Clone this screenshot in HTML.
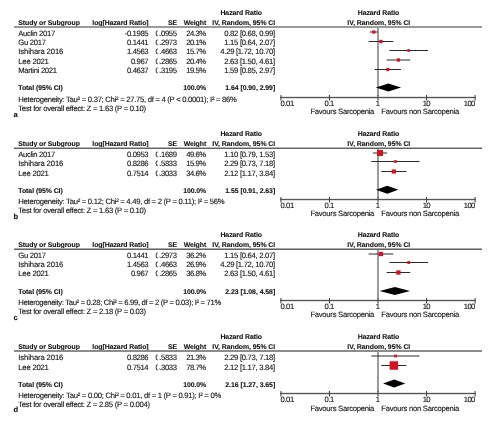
<!DOCTYPE html>
<html><head><meta charset="utf-8"><style>
html,body{margin:0;padding:0;background:#fff;}
body{width:496px;height:426px;overflow:hidden;}
svg{display:block;filter:blur(0.3px);font-family:"Liberation Sans",sans-serif;text-rendering:geometricPrecision;}
</style></head><body>
<svg width="496" height="426" viewBox="0 0 496 426">
<rect width="496" height="426" fill="#fff"/>
<text x="241.20" y="15.00" text-anchor="middle" font-size="6.9" font-weight="bold" fill="#151515" stroke="#151515" stroke-width="0.12" textLength="41.56" lengthAdjust="spacing">Hazard Ratio</text>
<text x="378.50" y="15.00" text-anchor="middle" font-size="6.9" font-weight="bold" fill="#151515" stroke="#151515" stroke-width="0.12" textLength="41.56" lengthAdjust="spacing">Hazard Ratio</text>
<text x="18.30" y="24.60" text-anchor="start" font-size="6.9" font-weight="bold" fill="#151515" stroke="#151515" stroke-width="0.12" textLength="61.57" lengthAdjust="spacing">Study or Subgroup</text>
<text x="148.60" y="24.60" text-anchor="end" font-size="6.9" font-weight="bold" fill="#151515" stroke="#151515" stroke-width="0.12" textLength="56.29" lengthAdjust="spacing">log[Hazard Ratio]</text>
<text x="177.00" y="24.60" text-anchor="end" font-size="6.9" font-weight="bold" fill="#151515" stroke="#151515" stroke-width="0.12" textLength="9.07" lengthAdjust="spacing">SE</text>
<text x="206.20" y="24.60" text-anchor="end" font-size="6.9" font-weight="bold" fill="#151515" stroke="#151515" stroke-width="0.12" textLength="22.54" lengthAdjust="spacing">Weight</text>
<text x="275.20" y="24.60" text-anchor="end" font-size="6.9" font-weight="bold" fill="#151515" stroke="#151515" stroke-width="0.12" textLength="62.86" lengthAdjust="spacing">IV, Random, 95% CI</text>
<text x="378.80" y="24.60" text-anchor="middle" font-size="6.9" font-weight="bold" fill="#151515" stroke="#151515" stroke-width="0.12" textLength="62.86" lengthAdjust="spacing">IV, Random, 95% CI</text>
<rect x="14" y="26" width="468" height="1" fill="#9a9a9a"/>
<rect x="14" y="27" width="468" height="1" fill="#9a9a9a"/>
<rect x="377" y="28" width="2" height="69" fill="#9c9c9c"/>
<text x="18.30" y="35.90" text-anchor="start" font-size="7.7" font-weight="normal" fill="#151515" stroke="#151515" stroke-width="0.12" textLength="36.90" lengthAdjust="spacing">Auclin 2017</text>
<text x="148.60" y="35.90" text-anchor="end" font-size="7.7" font-weight="normal" fill="#151515" stroke="#151515" stroke-width="0.12" textLength="23.91" lengthAdjust="spacing">-0.1985</text>
<text x="177.00" y="35.90" text-anchor="end" font-size="7.7" font-weight="normal" fill="#151515" stroke="#151515" stroke-width="0.12" textLength="21.56" lengthAdjust="spacing">0.0955</text>
<rect x="157.8" y="29.40" width="1.2" height="7" fill="#fff"/><rect x="159" y="29.40" width="1" height="5.3" fill="#fff"/>
<text x="206.20" y="35.90" text-anchor="end" font-size="7.7" font-weight="normal" fill="#151515" stroke="#151515" stroke-width="0.12" textLength="19.99" lengthAdjust="spacing">24.3%</text>
<text x="275.20" y="35.90" text-anchor="end" font-size="7.7" font-weight="normal" fill="#151515" stroke="#151515" stroke-width="0.12" textLength="50.96" lengthAdjust="spacing">0.82 [0.68, 0.99]</text>
<line x1="369.87" y1="32.00" x2="377.79" y2="32.00" stroke="#2a2a2a" stroke-width="1.0"/>
<rect x="372.22" y="30.40" width="3.20" height="3.20" fill="#cf1424"/>
<text x="18.30" y="44.90" text-anchor="start" font-size="7.7" font-weight="normal" fill="#151515" stroke="#151515" stroke-width="0.12" textLength="27.80" lengthAdjust="spacing">Gu 2017</text>
<text x="148.60" y="44.90" text-anchor="end" font-size="7.7" font-weight="normal" fill="#151515" stroke="#151515" stroke-width="0.12" textLength="21.56" lengthAdjust="spacing">0.1441</text>
<text x="177.00" y="44.90" text-anchor="end" font-size="7.7" font-weight="normal" fill="#151515" stroke="#151515" stroke-width="0.12" textLength="21.56" lengthAdjust="spacing">0.2973</text>
<rect x="157.8" y="38.40" width="1.2" height="7" fill="#fff"/><rect x="159" y="38.40" width="1" height="5.3" fill="#fff"/>
<text x="206.20" y="44.90" text-anchor="end" font-size="7.7" font-weight="normal" fill="#151515" stroke="#151515" stroke-width="0.12" textLength="19.99" lengthAdjust="spacing">20.1%</text>
<text x="275.20" y="44.90" text-anchor="end" font-size="7.7" font-weight="normal" fill="#151515" stroke="#151515" stroke-width="0.12" textLength="50.96" lengthAdjust="spacing">1.15 [0.64, 2.07]</text>
<line x1="368.59" y1="41.50" x2="393.34" y2="41.50" stroke="#2a2a2a" stroke-width="1.0"/>
<rect x="379.30" y="39.85" width="3.30" height="3.30" fill="#cf1424"/>
<text x="18.30" y="54.20" text-anchor="start" font-size="7.7" font-weight="normal" fill="#151515" stroke="#151515" stroke-width="0.12" textLength="45.00" lengthAdjust="spacing">Ishihara 2016</text>
<text x="148.60" y="54.20" text-anchor="end" font-size="7.7" font-weight="normal" fill="#151515" stroke="#151515" stroke-width="0.12" textLength="21.56" lengthAdjust="spacing">1.4563</text>
<text x="177.00" y="54.20" text-anchor="end" font-size="7.7" font-weight="normal" fill="#151515" stroke="#151515" stroke-width="0.12" textLength="21.56" lengthAdjust="spacing">0.4663</text>
<rect x="157.8" y="47.70" width="1.2" height="7" fill="#fff"/><rect x="159" y="47.70" width="1" height="5.3" fill="#fff"/>
<text x="206.20" y="54.20" text-anchor="end" font-size="7.7" font-weight="normal" fill="#151515" stroke="#151515" stroke-width="0.12" textLength="19.99" lengthAdjust="spacing">15.7%</text>
<text x="275.20" y="54.20" text-anchor="end" font-size="7.7" font-weight="normal" fill="#151515" stroke="#151515" stroke-width="0.12" textLength="54.88" lengthAdjust="spacing">4.29 [1.72, 10.70]</text>
<line x1="389.43" y1="50.50" x2="427.98" y2="50.50" stroke="#2a2a2a" stroke-width="1.0"/>
<rect x="407.36" y="49.15" width="2.70" height="2.70" fill="#cf1424"/>
<text x="18.30" y="63.60" text-anchor="start" font-size="7.7" font-weight="normal" fill="#151515" stroke="#151515" stroke-width="0.12" textLength="30.60" lengthAdjust="spacing">Lee 2021</text>
<text x="148.60" y="63.60" text-anchor="end" font-size="7.7" font-weight="normal" fill="#151515" stroke="#151515" stroke-width="0.12" textLength="17.64" lengthAdjust="spacing">0.967</text>
<text x="177.00" y="63.60" text-anchor="end" font-size="7.7" font-weight="normal" fill="#151515" stroke="#151515" stroke-width="0.12" textLength="21.56" lengthAdjust="spacing">0.2865</text>
<rect x="157.8" y="57.10" width="1.2" height="7" fill="#fff"/><rect x="159" y="57.10" width="1" height="5.3" fill="#fff"/>
<text x="206.20" y="63.60" text-anchor="end" font-size="7.7" font-weight="normal" fill="#151515" stroke="#151515" stroke-width="0.12" textLength="19.99" lengthAdjust="spacing">20.4%</text>
<text x="275.20" y="63.60" text-anchor="end" font-size="7.7" font-weight="normal" fill="#151515" stroke="#151515" stroke-width="0.12" textLength="50.96" lengthAdjust="spacing">2.63 [1.50, 4.61]</text>
<line x1="386.55" y1="60.00" x2="410.22" y2="60.00" stroke="#2a2a2a" stroke-width="1.0"/>
<rect x="396.74" y="58.35" width="3.30" height="3.30" fill="#cf1424"/>
<text x="18.30" y="73.00" text-anchor="start" font-size="7.7" font-weight="normal" fill="#151515" stroke="#151515" stroke-width="0.12" textLength="38.70" lengthAdjust="spacing">Martini 2021</text>
<text x="148.60" y="73.00" text-anchor="end" font-size="7.7" font-weight="normal" fill="#151515" stroke="#151515" stroke-width="0.12" textLength="21.56" lengthAdjust="spacing">0.4637</text>
<text x="177.00" y="73.00" text-anchor="end" font-size="7.7" font-weight="normal" fill="#151515" stroke="#151515" stroke-width="0.12" textLength="21.56" lengthAdjust="spacing">0.3195</text>
<rect x="157.8" y="66.50" width="1.2" height="7" fill="#fff"/><rect x="159" y="66.50" width="1" height="5.3" fill="#fff"/>
<text x="206.20" y="73.00" text-anchor="end" font-size="7.7" font-weight="normal" fill="#151515" stroke="#151515" stroke-width="0.12" textLength="19.99" lengthAdjust="spacing">19.5%</text>
<text x="275.20" y="73.00" text-anchor="end" font-size="7.7" font-weight="normal" fill="#151515" stroke="#151515" stroke-width="0.12" textLength="50.96" lengthAdjust="spacing">1.59 [0.85, 2.97]</text>
<line x1="374.57" y1="69.50" x2="400.95" y2="69.50" stroke="#2a2a2a" stroke-width="1.0"/>
<rect x="386.18" y="67.90" width="3.20" height="3.20" fill="#cf1424"/>
<text x="18.30" y="90.30" text-anchor="start" font-size="6.9" font-weight="bold" fill="#151515" stroke="#151515" stroke-width="0.12" textLength="44.46" lengthAdjust="spacing">Total (95% CI)</text>
<text x="206.20" y="90.30" text-anchor="end" font-size="6.9" font-weight="bold" fill="#151515" stroke="#151515" stroke-width="0.12" textLength="23.06" lengthAdjust="spacing">100.0%</text>
<text x="275.20" y="90.30" text-anchor="end" font-size="6.9" font-weight="bold" fill="#151515" stroke="#151515" stroke-width="0.12" textLength="49.90" lengthAdjust="spacing">1.64 [0.90, 2.99]</text>
<polygon points="375.78,87.60 388.43,83.60 401.09,87.60 388.43,91.60" fill="#000"/>
<text x="18.30" y="101.50" text-anchor="start" font-size="7.7" font-weight="normal" fill="#151515" stroke="#151515" stroke-width="0.12" textLength="218.62" lengthAdjust="spacing">Heterogeneity: Tau² = 0.37; Chi² = 27.75, df = 4 (P < 0.0001); I² = 86%</text>
<text x="18.30" y="111.00" text-anchor="start" font-size="7.7" font-weight="normal" fill="#151515" stroke="#151515" stroke-width="0.12" textLength="127.88" lengthAdjust="spacing">Test for overall effect: Z = 1.63 (P = 0.10)</text>
<text x="13.60" y="116.70" text-anchor="start" font-size="7.6" font-weight="bold" fill="#151515" stroke="#151515" stroke-width="0.12" textLength="4.23" lengthAdjust="spacing">a</text>
<rect x="280.40" y="97" width="195.20" height="1" fill="#555"/>
<rect x="280.40" y="96" width="195.20" height="1" fill="#e2e2e2"/>
<rect x="280.40" y="98" width="195.20" height="1" fill="#dcdcdc"/>
<line x1="280.90" y1="95.00" x2="280.90" y2="100.50" stroke="#3a3a3a" stroke-width="1.0"/>
<text x="280.50" y="106.20" text-anchor="start" font-size="7.7" font-weight="normal" fill="#151515" stroke="#151515" stroke-width="0.12" textLength="13.72" lengthAdjust="spacing">0.01</text>
<line x1="329.45" y1="95.00" x2="329.45" y2="100.50" stroke="#3a3a3a" stroke-width="1.0"/>
<text x="329.45" y="106.20" text-anchor="middle" font-size="7.7" font-weight="normal" fill="#151515" stroke="#151515" stroke-width="0.12" textLength="9.80" lengthAdjust="spacing">0.1</text>
<line x1="378.00" y1="95.00" x2="378.00" y2="100.50" stroke="#3a3a3a" stroke-width="1.0"/>
<text x="378.00" y="106.20" text-anchor="middle" font-size="7.7" font-weight="normal" fill="#151515" stroke="#151515" stroke-width="0.12" textLength="3.92" lengthAdjust="spacing">1</text>
<line x1="426.55" y1="95.00" x2="426.55" y2="100.50" stroke="#3a3a3a" stroke-width="1.0"/>
<text x="426.55" y="106.20" text-anchor="middle" font-size="7.7" font-weight="normal" fill="#151515" stroke="#151515" stroke-width="0.12" textLength="7.84" lengthAdjust="spacing">10</text>
<line x1="475.10" y1="95.00" x2="475.10" y2="100.50" stroke="#3a3a3a" stroke-width="1.0"/>
<text x="475.40" y="106.20" text-anchor="end" font-size="7.7" font-weight="normal" fill="#151515" stroke="#151515" stroke-width="0.12" textLength="11.76" lengthAdjust="spacing">100</text>
<text x="374.40" y="114.40" text-anchor="end" font-size="7.7" font-weight="normal" fill="#151515" stroke="#151515" stroke-width="0.12" textLength="64.00" lengthAdjust="spacing">Favours Sarcopenia</text>
<text x="381.30" y="114.40" text-anchor="start" font-size="7.7" font-weight="normal" fill="#151515" stroke="#151515" stroke-width="0.12" textLength="78.00" lengthAdjust="spacing">Favours non Sarcopenia</text>
<text x="241.20" y="136.20" text-anchor="middle" font-size="6.9" font-weight="bold" fill="#151515" stroke="#151515" stroke-width="0.12" textLength="41.56" lengthAdjust="spacing">Hazard Ratio</text>
<text x="378.50" y="136.20" text-anchor="middle" font-size="6.9" font-weight="bold" fill="#151515" stroke="#151515" stroke-width="0.12" textLength="41.56" lengthAdjust="spacing">Hazard Ratio</text>
<text x="18.30" y="145.80" text-anchor="start" font-size="6.9" font-weight="bold" fill="#151515" stroke="#151515" stroke-width="0.12" textLength="61.57" lengthAdjust="spacing">Study or Subgroup</text>
<text x="148.60" y="145.80" text-anchor="end" font-size="6.9" font-weight="bold" fill="#151515" stroke="#151515" stroke-width="0.12" textLength="56.29" lengthAdjust="spacing">log[Hazard Ratio]</text>
<text x="177.00" y="145.80" text-anchor="end" font-size="6.9" font-weight="bold" fill="#151515" stroke="#151515" stroke-width="0.12" textLength="9.07" lengthAdjust="spacing">SE</text>
<text x="206.20" y="145.80" text-anchor="end" font-size="6.9" font-weight="bold" fill="#151515" stroke="#151515" stroke-width="0.12" textLength="22.54" lengthAdjust="spacing">Weight</text>
<text x="275.20" y="145.80" text-anchor="end" font-size="6.9" font-weight="bold" fill="#151515" stroke="#151515" stroke-width="0.12" textLength="62.86" lengthAdjust="spacing">IV, Random, 95% CI</text>
<text x="378.80" y="145.80" text-anchor="middle" font-size="6.9" font-weight="bold" fill="#151515" stroke="#151515" stroke-width="0.12" textLength="62.86" lengthAdjust="spacing">IV, Random, 95% CI</text>
<rect x="14" y="147" width="468" height="1" fill="#b4b4b4"/>
<rect x="14" y="148" width="468" height="1" fill="#646464"/>
<rect x="377" y="149" width="2" height="50" fill="#9c9c9c"/>
<text x="18.30" y="156.90" text-anchor="start" font-size="7.7" font-weight="normal" fill="#151515" stroke="#151515" stroke-width="0.12" textLength="36.90" lengthAdjust="spacing">Auclin 2017</text>
<text x="148.60" y="156.90" text-anchor="end" font-size="7.7" font-weight="normal" fill="#151515" stroke="#151515" stroke-width="0.12" textLength="21.56" lengthAdjust="spacing">0.0953</text>
<text x="177.00" y="156.90" text-anchor="end" font-size="7.7" font-weight="normal" fill="#151515" stroke="#151515" stroke-width="0.12" textLength="21.56" lengthAdjust="spacing">0.1689</text>
<rect x="157.8" y="150.40" width="1.2" height="7" fill="#fff"/><rect x="159" y="150.40" width="1" height="5.3" fill="#fff"/>
<text x="206.20" y="156.90" text-anchor="end" font-size="7.7" font-weight="normal" fill="#151515" stroke="#151515" stroke-width="0.12" textLength="19.99" lengthAdjust="spacing">49.6%</text>
<text x="275.20" y="156.90" text-anchor="end" font-size="7.7" font-weight="normal" fill="#151515" stroke="#151515" stroke-width="0.12" textLength="50.96" lengthAdjust="spacing">1.10 [0.79, 1.53]</text>
<line x1="373.03" y1="153.00" x2="386.97" y2="153.00" stroke="#2a2a2a" stroke-width="1.0"/>
<rect x="377.01" y="150.00" width="6.00" height="6.00" fill="#cf1424"/>
<text x="18.30" y="166.10" text-anchor="start" font-size="7.7" font-weight="normal" fill="#151515" stroke="#151515" stroke-width="0.12" textLength="45.00" lengthAdjust="spacing">Ishihara 2016</text>
<text x="148.60" y="166.10" text-anchor="end" font-size="7.7" font-weight="normal" fill="#151515" stroke="#151515" stroke-width="0.12" textLength="21.56" lengthAdjust="spacing">0.8286</text>
<text x="177.00" y="166.10" text-anchor="end" font-size="7.7" font-weight="normal" fill="#151515" stroke="#151515" stroke-width="0.12" textLength="21.56" lengthAdjust="spacing">0.5833</text>
<rect x="157.8" y="159.60" width="1.2" height="7" fill="#fff"/><rect x="159" y="159.60" width="1" height="5.3" fill="#fff"/>
<text x="206.20" y="166.10" text-anchor="end" font-size="7.7" font-weight="normal" fill="#151515" stroke="#151515" stroke-width="0.12" textLength="19.99" lengthAdjust="spacing">15.9%</text>
<text x="275.20" y="166.10" text-anchor="end" font-size="7.7" font-weight="normal" fill="#151515" stroke="#151515" stroke-width="0.12" textLength="50.96" lengthAdjust="spacing">2.29 [0.73, 7.18]</text>
<line x1="371.36" y1="161.50" x2="419.56" y2="161.50" stroke="#2a2a2a" stroke-width="1.0"/>
<rect x="394.12" y="160.15" width="2.70" height="2.70" fill="#cf1424"/>
<text x="18.30" y="175.50" text-anchor="start" font-size="7.7" font-weight="normal" fill="#151515" stroke="#151515" stroke-width="0.12" textLength="30.60" lengthAdjust="spacing">Lee 2021</text>
<text x="148.60" y="175.50" text-anchor="end" font-size="7.7" font-weight="normal" fill="#151515" stroke="#151515" stroke-width="0.12" textLength="21.56" lengthAdjust="spacing">0.7514</text>
<text x="177.00" y="175.50" text-anchor="end" font-size="7.7" font-weight="normal" fill="#151515" stroke="#151515" stroke-width="0.12" textLength="21.56" lengthAdjust="spacing">0.3033</text>
<rect x="157.8" y="169.00" width="1.2" height="7" fill="#fff"/><rect x="159" y="169.00" width="1" height="5.3" fill="#fff"/>
<text x="206.20" y="175.50" text-anchor="end" font-size="7.7" font-weight="normal" fill="#151515" stroke="#151515" stroke-width="0.12" textLength="19.99" lengthAdjust="spacing">34.6%</text>
<text x="275.20" y="175.50" text-anchor="end" font-size="7.7" font-weight="normal" fill="#151515" stroke="#151515" stroke-width="0.12" textLength="50.96" lengthAdjust="spacing">2.12 [1.17, 3.84]</text>
<line x1="381.31" y1="171.50" x2="406.37" y2="171.50" stroke="#2a2a2a" stroke-width="1.0"/>
<rect x="391.74" y="169.40" width="4.20" height="4.20" fill="#cf1424"/>
<text x="18.30" y="192.90" text-anchor="start" font-size="6.9" font-weight="bold" fill="#151515" stroke="#151515" stroke-width="0.12" textLength="44.46" lengthAdjust="spacing">Total (95% CI)</text>
<text x="206.20" y="192.90" text-anchor="end" font-size="6.9" font-weight="bold" fill="#151515" stroke="#151515" stroke-width="0.12" textLength="23.06" lengthAdjust="spacing">100.0%</text>
<text x="275.20" y="192.90" text-anchor="end" font-size="6.9" font-weight="bold" fill="#151515" stroke="#151515" stroke-width="0.12" textLength="49.90" lengthAdjust="spacing">1.55 [0.91, 2.63]</text>
<polygon points="376.01,189.70 387.24,185.70 398.39,189.70 387.24,193.70" fill="#000"/>
<text x="18.30" y="203.70" text-anchor="start" font-size="7.7" font-weight="normal" fill="#151515" stroke="#151515" stroke-width="0.12" textLength="206.34" lengthAdjust="spacing">Heterogeneity: Tau² = 0.12; Chi² = 4.49, df = 2 (P = 0.11); I² = 56%</text>
<text x="18.30" y="213.10" text-anchor="start" font-size="7.7" font-weight="normal" fill="#151515" stroke="#151515" stroke-width="0.12" textLength="127.88" lengthAdjust="spacing">Test for overall effect: Z = 1.63 (P = 0.10)</text>
<text x="13.60" y="218.70" text-anchor="start" font-size="7.6" font-weight="bold" fill="#151515" stroke="#151515" stroke-width="0.12" textLength="4.64" lengthAdjust="spacing">b</text>
<rect x="280.40" y="199" width="195.20" height="1" fill="#555"/>
<rect x="280.40" y="198" width="195.20" height="1" fill="#e2e2e2"/>
<rect x="280.40" y="200" width="195.20" height="1" fill="#dcdcdc"/>
<line x1="280.90" y1="197.00" x2="280.90" y2="202.50" stroke="#3a3a3a" stroke-width="1.0"/>
<text x="280.50" y="208.20" text-anchor="start" font-size="7.7" font-weight="normal" fill="#151515" stroke="#151515" stroke-width="0.12" textLength="13.72" lengthAdjust="spacing">0.01</text>
<line x1="329.45" y1="197.00" x2="329.45" y2="202.50" stroke="#3a3a3a" stroke-width="1.0"/>
<text x="329.45" y="208.20" text-anchor="middle" font-size="7.7" font-weight="normal" fill="#151515" stroke="#151515" stroke-width="0.12" textLength="9.80" lengthAdjust="spacing">0.1</text>
<line x1="378.00" y1="197.00" x2="378.00" y2="202.50" stroke="#3a3a3a" stroke-width="1.0"/>
<text x="378.00" y="208.20" text-anchor="middle" font-size="7.7" font-weight="normal" fill="#151515" stroke="#151515" stroke-width="0.12" textLength="3.92" lengthAdjust="spacing">1</text>
<line x1="426.55" y1="197.00" x2="426.55" y2="202.50" stroke="#3a3a3a" stroke-width="1.0"/>
<text x="426.55" y="208.20" text-anchor="middle" font-size="7.7" font-weight="normal" fill="#151515" stroke="#151515" stroke-width="0.12" textLength="7.84" lengthAdjust="spacing">10</text>
<line x1="475.10" y1="197.00" x2="475.10" y2="202.50" stroke="#3a3a3a" stroke-width="1.0"/>
<text x="475.40" y="208.20" text-anchor="end" font-size="7.7" font-weight="normal" fill="#151515" stroke="#151515" stroke-width="0.12" textLength="11.76" lengthAdjust="spacing">100</text>
<text x="374.40" y="216.40" text-anchor="end" font-size="7.7" font-weight="normal" fill="#151515" stroke="#151515" stroke-width="0.12" textLength="64.00" lengthAdjust="spacing">Favours Sarcopenia</text>
<text x="381.30" y="216.40" text-anchor="start" font-size="7.7" font-weight="normal" fill="#151515" stroke="#151515" stroke-width="0.12" textLength="78.00" lengthAdjust="spacing">Favours non Sarcopenia</text>
<text x="241.20" y="237.20" text-anchor="middle" font-size="6.9" font-weight="bold" fill="#151515" stroke="#151515" stroke-width="0.12" textLength="41.56" lengthAdjust="spacing">Hazard Ratio</text>
<text x="378.50" y="237.20" text-anchor="middle" font-size="6.9" font-weight="bold" fill="#151515" stroke="#151515" stroke-width="0.12" textLength="41.56" lengthAdjust="spacing">Hazard Ratio</text>
<text x="18.30" y="246.80" text-anchor="start" font-size="6.9" font-weight="bold" fill="#151515" stroke="#151515" stroke-width="0.12" textLength="61.57" lengthAdjust="spacing">Study or Subgroup</text>
<text x="148.60" y="246.80" text-anchor="end" font-size="6.9" font-weight="bold" fill="#151515" stroke="#151515" stroke-width="0.12" textLength="56.29" lengthAdjust="spacing">log[Hazard Ratio]</text>
<text x="177.00" y="246.80" text-anchor="end" font-size="6.9" font-weight="bold" fill="#151515" stroke="#151515" stroke-width="0.12" textLength="9.07" lengthAdjust="spacing">SE</text>
<text x="206.20" y="246.80" text-anchor="end" font-size="6.9" font-weight="bold" fill="#151515" stroke="#151515" stroke-width="0.12" textLength="22.54" lengthAdjust="spacing">Weight</text>
<text x="275.20" y="246.80" text-anchor="end" font-size="6.9" font-weight="bold" fill="#151515" stroke="#151515" stroke-width="0.12" textLength="62.86" lengthAdjust="spacing">IV, Random, 95% CI</text>
<text x="378.80" y="246.80" text-anchor="middle" font-size="6.9" font-weight="bold" fill="#151515" stroke="#151515" stroke-width="0.12" textLength="62.86" lengthAdjust="spacing">IV, Random, 95% CI</text>
<rect x="14" y="248" width="468" height="1" fill="#a8a8a8"/>
<rect x="14" y="249" width="468" height="1" fill="#646464"/>
<rect x="377" y="250" width="2" height="50" fill="#9c9c9c"/>
<text x="18.30" y="257.70" text-anchor="start" font-size="7.7" font-weight="normal" fill="#151515" stroke="#151515" stroke-width="0.12" textLength="27.80" lengthAdjust="spacing">Gu 2017</text>
<text x="148.60" y="257.70" text-anchor="end" font-size="7.7" font-weight="normal" fill="#151515" stroke="#151515" stroke-width="0.12" textLength="21.56" lengthAdjust="spacing">0.1441</text>
<text x="177.00" y="257.70" text-anchor="end" font-size="7.7" font-weight="normal" fill="#151515" stroke="#151515" stroke-width="0.12" textLength="21.56" lengthAdjust="spacing">0.2973</text>
<rect x="157.8" y="251.20" width="1.2" height="7" fill="#fff"/><rect x="159" y="251.20" width="1" height="5.3" fill="#fff"/>
<text x="206.20" y="257.70" text-anchor="end" font-size="7.7" font-weight="normal" fill="#151515" stroke="#151515" stroke-width="0.12" textLength="19.99" lengthAdjust="spacing">36.2%</text>
<text x="275.20" y="257.70" text-anchor="end" font-size="7.7" font-weight="normal" fill="#151515" stroke="#151515" stroke-width="0.12" textLength="50.96" lengthAdjust="spacing">1.15 [0.64, 2.07]</text>
<line x1="368.59" y1="254.00" x2="393.34" y2="254.00" stroke="#2a2a2a" stroke-width="1.0"/>
<rect x="378.80" y="251.85" width="4.30" height="4.30" fill="#cf1424"/>
<text x="18.30" y="266.90" text-anchor="start" font-size="7.7" font-weight="normal" fill="#151515" stroke="#151515" stroke-width="0.12" textLength="45.00" lengthAdjust="spacing">Ishihara 2016</text>
<text x="148.60" y="266.90" text-anchor="end" font-size="7.7" font-weight="normal" fill="#151515" stroke="#151515" stroke-width="0.12" textLength="21.56" lengthAdjust="spacing">1.4563</text>
<text x="177.00" y="266.90" text-anchor="end" font-size="7.7" font-weight="normal" fill="#151515" stroke="#151515" stroke-width="0.12" textLength="21.56" lengthAdjust="spacing">0.4663</text>
<rect x="157.8" y="260.40" width="1.2" height="7" fill="#fff"/><rect x="159" y="260.40" width="1" height="5.3" fill="#fff"/>
<text x="206.20" y="266.90" text-anchor="end" font-size="7.7" font-weight="normal" fill="#151515" stroke="#151515" stroke-width="0.12" textLength="19.99" lengthAdjust="spacing">26.9%</text>
<text x="275.20" y="266.90" text-anchor="end" font-size="7.7" font-weight="normal" fill="#151515" stroke="#151515" stroke-width="0.12" textLength="54.88" lengthAdjust="spacing">4.29 [1.72, 10.70]</text>
<line x1="389.43" y1="262.50" x2="427.98" y2="262.50" stroke="#2a2a2a" stroke-width="1.0"/>
<rect x="407.26" y="261.05" width="2.90" height="2.90" fill="#cf1424"/>
<text x="18.30" y="276.30" text-anchor="start" font-size="7.7" font-weight="normal" fill="#151515" stroke="#151515" stroke-width="0.12" textLength="30.60" lengthAdjust="spacing">Lee 2021</text>
<text x="148.60" y="276.30" text-anchor="end" font-size="7.7" font-weight="normal" fill="#151515" stroke="#151515" stroke-width="0.12" textLength="17.64" lengthAdjust="spacing">0.967</text>
<text x="177.00" y="276.30" text-anchor="end" font-size="7.7" font-weight="normal" fill="#151515" stroke="#151515" stroke-width="0.12" textLength="21.56" lengthAdjust="spacing">0.2865</text>
<rect x="157.8" y="269.80" width="1.2" height="7" fill="#fff"/><rect x="159" y="269.80" width="1" height="5.3" fill="#fff"/>
<text x="206.20" y="276.30" text-anchor="end" font-size="7.7" font-weight="normal" fill="#151515" stroke="#151515" stroke-width="0.12" textLength="19.99" lengthAdjust="spacing">36.8%</text>
<text x="275.20" y="276.30" text-anchor="end" font-size="7.7" font-weight="normal" fill="#151515" stroke="#151515" stroke-width="0.12" textLength="50.96" lengthAdjust="spacing">2.63 [1.50, 4.61]</text>
<line x1="386.55" y1="272.50" x2="410.22" y2="272.50" stroke="#2a2a2a" stroke-width="1.0"/>
<rect x="396.24" y="270.35" width="4.30" height="4.30" fill="#cf1424"/>
<text x="18.30" y="294.00" text-anchor="start" font-size="6.9" font-weight="bold" fill="#151515" stroke="#151515" stroke-width="0.12" textLength="44.46" lengthAdjust="spacing">Total (95% CI)</text>
<text x="206.20" y="294.00" text-anchor="end" font-size="6.9" font-weight="bold" fill="#151515" stroke="#151515" stroke-width="0.12" textLength="23.06" lengthAdjust="spacing">100.0%</text>
<text x="275.20" y="294.00" text-anchor="end" font-size="6.9" font-weight="bold" fill="#151515" stroke="#151515" stroke-width="0.12" textLength="49.90" lengthAdjust="spacing">2.23 [1.08, 4.58]</text>
<polygon points="379.62,290.90 394.91,286.90 410.09,290.90 394.91,294.90" fill="#000"/>
<text x="18.30" y="304.60" text-anchor="start" font-size="7.7" font-weight="normal" fill="#151515" stroke="#151515" stroke-width="0.12" textLength="203.00" lengthAdjust="spacing">Heterogeneity: Tau² = 0.28; Chi² = 6.99, df = 2 (P = 0.03); I² = 71%</text>
<text x="18.30" y="314.10" text-anchor="start" font-size="7.7" font-weight="normal" fill="#151515" stroke="#151515" stroke-width="0.12" textLength="127.88" lengthAdjust="spacing">Test for overall effect: Z = 2.18 (P = 0.03)</text>
<text x="13.60" y="320.00" text-anchor="start" font-size="7.6" font-weight="bold" fill="#151515" stroke="#151515" stroke-width="0.12" textLength="4.23" lengthAdjust="spacing">c</text>
<rect x="280.40" y="300" width="195.20" height="1" fill="#555"/>
<rect x="280.40" y="299" width="195.20" height="1" fill="#e2e2e2"/>
<rect x="280.40" y="301" width="195.20" height="1" fill="#dcdcdc"/>
<line x1="280.90" y1="298.00" x2="280.90" y2="303.50" stroke="#3a3a3a" stroke-width="1.0"/>
<text x="280.50" y="308.90" text-anchor="start" font-size="7.7" font-weight="normal" fill="#151515" stroke="#151515" stroke-width="0.12" textLength="13.72" lengthAdjust="spacing">0.01</text>
<line x1="329.45" y1="298.00" x2="329.45" y2="303.50" stroke="#3a3a3a" stroke-width="1.0"/>
<text x="329.45" y="308.90" text-anchor="middle" font-size="7.7" font-weight="normal" fill="#151515" stroke="#151515" stroke-width="0.12" textLength="9.80" lengthAdjust="spacing">0.1</text>
<line x1="378.00" y1="298.00" x2="378.00" y2="303.50" stroke="#3a3a3a" stroke-width="1.0"/>
<text x="378.00" y="308.90" text-anchor="middle" font-size="7.7" font-weight="normal" fill="#151515" stroke="#151515" stroke-width="0.12" textLength="3.92" lengthAdjust="spacing">1</text>
<line x1="426.55" y1="298.00" x2="426.55" y2="303.50" stroke="#3a3a3a" stroke-width="1.0"/>
<text x="426.55" y="308.90" text-anchor="middle" font-size="7.7" font-weight="normal" fill="#151515" stroke="#151515" stroke-width="0.12" textLength="7.84" lengthAdjust="spacing">10</text>
<line x1="475.10" y1="298.00" x2="475.10" y2="303.50" stroke="#3a3a3a" stroke-width="1.0"/>
<text x="475.40" y="308.90" text-anchor="end" font-size="7.7" font-weight="normal" fill="#151515" stroke="#151515" stroke-width="0.12" textLength="11.76" lengthAdjust="spacing">100</text>
<text x="374.40" y="317.10" text-anchor="end" font-size="7.7" font-weight="normal" fill="#151515" stroke="#151515" stroke-width="0.12" textLength="64.00" lengthAdjust="spacing">Favours Sarcopenia</text>
<text x="381.30" y="317.10" text-anchor="start" font-size="7.7" font-weight="normal" fill="#151515" stroke="#151515" stroke-width="0.12" textLength="78.00" lengthAdjust="spacing">Favours non Sarcopenia</text>
<text x="241.20" y="338.90" text-anchor="middle" font-size="6.9" font-weight="bold" fill="#151515" stroke="#151515" stroke-width="0.12" textLength="41.56" lengthAdjust="spacing">Hazard Ratio</text>
<text x="378.50" y="338.90" text-anchor="middle" font-size="6.9" font-weight="bold" fill="#151515" stroke="#151515" stroke-width="0.12" textLength="41.56" lengthAdjust="spacing">Hazard Ratio</text>
<text x="18.30" y="348.50" text-anchor="start" font-size="6.9" font-weight="bold" fill="#151515" stroke="#151515" stroke-width="0.12" textLength="61.57" lengthAdjust="spacing">Study or Subgroup</text>
<text x="148.60" y="348.50" text-anchor="end" font-size="6.9" font-weight="bold" fill="#151515" stroke="#151515" stroke-width="0.12" textLength="56.29" lengthAdjust="spacing">log[Hazard Ratio]</text>
<text x="177.00" y="348.50" text-anchor="end" font-size="6.9" font-weight="bold" fill="#151515" stroke="#151515" stroke-width="0.12" textLength="9.07" lengthAdjust="spacing">SE</text>
<text x="206.20" y="348.50" text-anchor="end" font-size="6.9" font-weight="bold" fill="#151515" stroke="#151515" stroke-width="0.12" textLength="22.54" lengthAdjust="spacing">Weight</text>
<text x="275.20" y="348.50" text-anchor="end" font-size="6.9" font-weight="bold" fill="#151515" stroke="#151515" stroke-width="0.12" textLength="62.86" lengthAdjust="spacing">IV, Random, 95% CI</text>
<text x="378.80" y="348.50" text-anchor="middle" font-size="6.9" font-weight="bold" fill="#151515" stroke="#151515" stroke-width="0.12" textLength="62.86" lengthAdjust="spacing">IV, Random, 95% CI</text>
<rect x="14" y="350" width="468" height="1" fill="#8c8c8c"/>
<rect x="14" y="351" width="468" height="1" fill="#8c8c8c"/>
<rect x="377" y="352" width="2" height="41" fill="#9c9c9c"/>
<text x="18.30" y="359.90" text-anchor="start" font-size="7.7" font-weight="normal" fill="#151515" stroke="#151515" stroke-width="0.12" textLength="45.00" lengthAdjust="spacing">Ishihara 2016</text>
<text x="148.60" y="359.90" text-anchor="end" font-size="7.7" font-weight="normal" fill="#151515" stroke="#151515" stroke-width="0.12" textLength="21.56" lengthAdjust="spacing">0.8286</text>
<text x="177.00" y="359.90" text-anchor="end" font-size="7.7" font-weight="normal" fill="#151515" stroke="#151515" stroke-width="0.12" textLength="21.56" lengthAdjust="spacing">0.5833</text>
<rect x="157.8" y="353.40" width="1.2" height="7" fill="#fff"/><rect x="159" y="353.40" width="1" height="5.3" fill="#fff"/>
<text x="206.20" y="359.90" text-anchor="end" font-size="7.7" font-weight="normal" fill="#151515" stroke="#151515" stroke-width="0.12" textLength="19.99" lengthAdjust="spacing">21.3%</text>
<text x="275.20" y="359.90" text-anchor="end" font-size="7.7" font-weight="normal" fill="#151515" stroke="#151515" stroke-width="0.12" textLength="50.96" lengthAdjust="spacing">2.29 [0.73, 7.18]</text>
<line x1="371.36" y1="356.00" x2="419.56" y2="356.00" stroke="#2a2a2a" stroke-width="1.0"/>
<rect x="394.07" y="354.60" width="2.80" height="2.80" fill="#cf1424"/>
<text x="18.30" y="369.50" text-anchor="start" font-size="7.7" font-weight="normal" fill="#151515" stroke="#151515" stroke-width="0.12" textLength="30.60" lengthAdjust="spacing">Lee 2021</text>
<text x="148.60" y="369.50" text-anchor="end" font-size="7.7" font-weight="normal" fill="#151515" stroke="#151515" stroke-width="0.12" textLength="21.56" lengthAdjust="spacing">0.7514</text>
<text x="177.00" y="369.50" text-anchor="end" font-size="7.7" font-weight="normal" fill="#151515" stroke="#151515" stroke-width="0.12" textLength="21.56" lengthAdjust="spacing">0.3033</text>
<rect x="157.8" y="363.00" width="1.2" height="7" fill="#fff"/><rect x="159" y="363.00" width="1" height="5.3" fill="#fff"/>
<text x="206.20" y="369.50" text-anchor="end" font-size="7.7" font-weight="normal" fill="#151515" stroke="#151515" stroke-width="0.12" textLength="19.99" lengthAdjust="spacing">78.7%</text>
<text x="275.20" y="369.50" text-anchor="end" font-size="7.7" font-weight="normal" fill="#151515" stroke="#151515" stroke-width="0.12" textLength="50.96" lengthAdjust="spacing">2.12 [1.17, 3.84]</text>
<line x1="381.31" y1="365.50" x2="406.37" y2="365.50" stroke="#2a2a2a" stroke-width="1.0"/>
<rect x="389.59" y="361.25" width="8.50" height="8.50" fill="#cf1424"/>
<text x="18.30" y="386.90" text-anchor="start" font-size="6.9" font-weight="bold" fill="#151515" stroke="#151515" stroke-width="0.12" textLength="44.46" lengthAdjust="spacing">Total (95% CI)</text>
<text x="206.20" y="386.90" text-anchor="end" font-size="6.9" font-weight="bold" fill="#151515" stroke="#151515" stroke-width="0.12" textLength="23.06" lengthAdjust="spacing">100.0%</text>
<text x="275.20" y="386.90" text-anchor="end" font-size="6.9" font-weight="bold" fill="#151515" stroke="#151515" stroke-width="0.12" textLength="49.90" lengthAdjust="spacing">2.16 [1.27, 3.65]</text>
<polygon points="383.04,383.60 394.24,379.60 405.30,383.60 394.24,387.60" fill="#000"/>
<text x="18.30" y="397.80" text-anchor="start" font-size="7.7" font-weight="normal" fill="#151515" stroke="#151515" stroke-width="0.12" textLength="202.94" lengthAdjust="spacing">Heterogeneity: Tau² = 0.00; Chi² = 0.01, df = 1 (P = 0.91); I² = 0%</text>
<text x="18.30" y="407.40" text-anchor="start" font-size="7.7" font-weight="normal" fill="#151515" stroke="#151515" stroke-width="0.12" textLength="131.80" lengthAdjust="spacing">Test for overall effect: Z = 2.85 (P = 0.004)</text>
<text x="13.60" y="411.80" text-anchor="start" font-size="7.6" font-weight="bold" fill="#151515" stroke="#151515" stroke-width="0.12" textLength="4.64" lengthAdjust="spacing">d</text>
<rect x="280.40" y="393" width="195.20" height="1" fill="#555"/>
<rect x="280.40" y="392" width="195.20" height="1" fill="#e2e2e2"/>
<rect x="280.40" y="394" width="195.20" height="1" fill="#dcdcdc"/>
<line x1="280.90" y1="391.00" x2="280.90" y2="396.50" stroke="#3a3a3a" stroke-width="1.0"/>
<text x="280.50" y="402.30" text-anchor="start" font-size="7.7" font-weight="normal" fill="#151515" stroke="#151515" stroke-width="0.12" textLength="13.72" lengthAdjust="spacing">0.01</text>
<line x1="329.45" y1="391.00" x2="329.45" y2="396.50" stroke="#3a3a3a" stroke-width="1.0"/>
<text x="329.45" y="402.30" text-anchor="middle" font-size="7.7" font-weight="normal" fill="#151515" stroke="#151515" stroke-width="0.12" textLength="9.80" lengthAdjust="spacing">0.1</text>
<line x1="378.00" y1="391.00" x2="378.00" y2="396.50" stroke="#3a3a3a" stroke-width="1.0"/>
<text x="378.00" y="402.30" text-anchor="middle" font-size="7.7" font-weight="normal" fill="#151515" stroke="#151515" stroke-width="0.12" textLength="3.92" lengthAdjust="spacing">1</text>
<line x1="426.55" y1="391.00" x2="426.55" y2="396.50" stroke="#3a3a3a" stroke-width="1.0"/>
<text x="426.55" y="402.30" text-anchor="middle" font-size="7.7" font-weight="normal" fill="#151515" stroke="#151515" stroke-width="0.12" textLength="7.84" lengthAdjust="spacing">10</text>
<line x1="475.10" y1="391.00" x2="475.10" y2="396.50" stroke="#3a3a3a" stroke-width="1.0"/>
<text x="475.40" y="402.30" text-anchor="end" font-size="7.7" font-weight="normal" fill="#151515" stroke="#151515" stroke-width="0.12" textLength="11.76" lengthAdjust="spacing">100</text>
<text x="374.40" y="410.50" text-anchor="end" font-size="7.7" font-weight="normal" fill="#151515" stroke="#151515" stroke-width="0.12" textLength="64.00" lengthAdjust="spacing">Favours Sarcopenia</text>
<text x="381.30" y="410.50" text-anchor="start" font-size="7.7" font-weight="normal" fill="#151515" stroke="#151515" stroke-width="0.12" textLength="78.00" lengthAdjust="spacing">Favours non Sarcopenia</text>
</svg>
</body></html>
